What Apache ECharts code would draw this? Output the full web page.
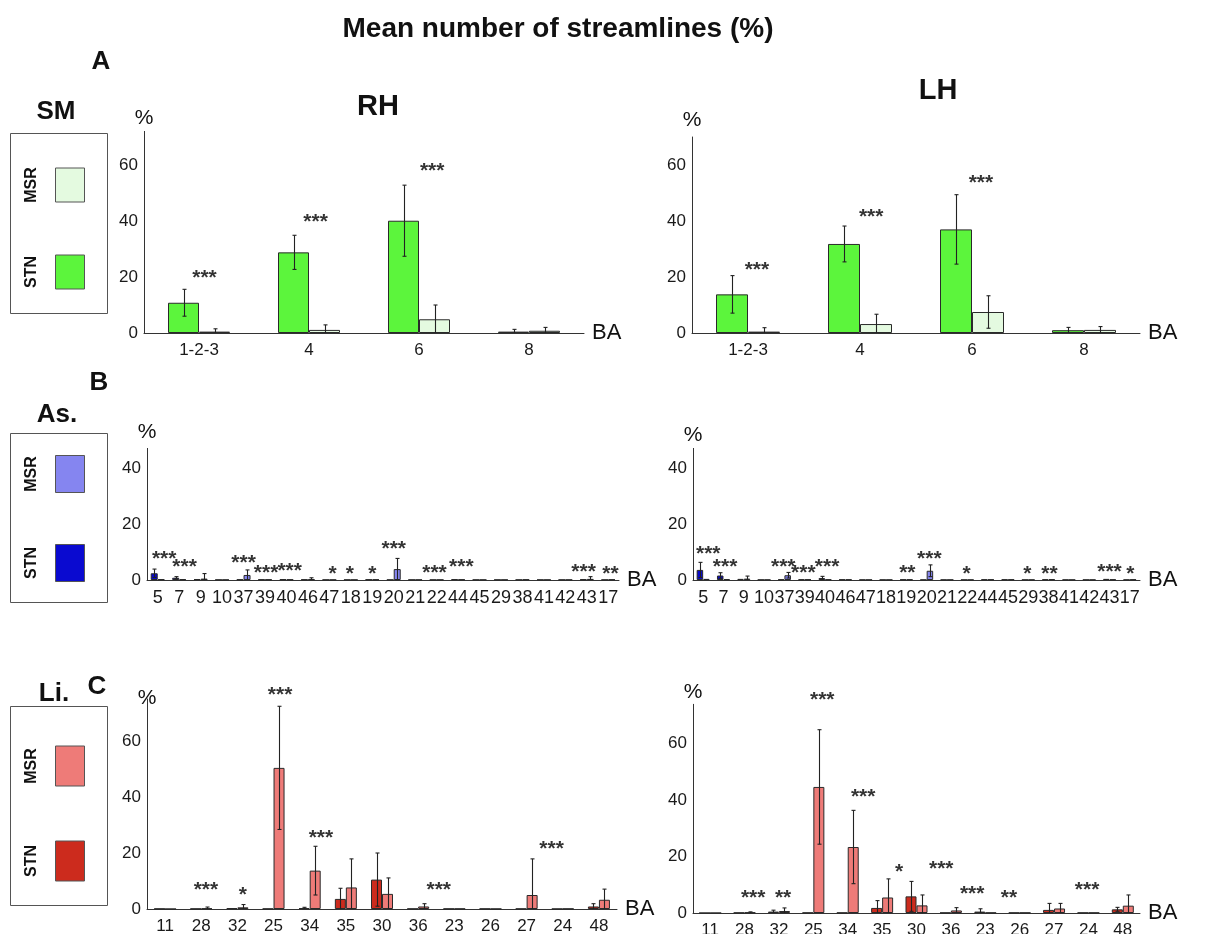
<!DOCTYPE html>
<html><head><meta charset="utf-8">
<script src="https://cdn.jsdelivr.net/npm/echarts@6/dist/echarts.min.js"></script>
<style>html,body{margin:0;padding:0;background:#fff}#c{width:1208px;height:934px}</style>
</head><body><div id="c"></div>
<script>
// ---------------- DATA ----------------
const chartTitle = 'Mean number of streamlines (%)';
const yTickLabels = [0, 20, 40, 60];

// Panel A (SM)
const smCategories = ['1-2-3', '4', '6', '8'];
const smRhStn   = [10.8, 28.8, 40.1, 0.5];
const smRhStnSd = [4.8, 6.1, 12.7, 0.8];
const smRhMsr   = [0.5, 1.1, 4.9, 0.8];
const smRhMsrSd = [1.0, 1.8, 5.1, 1.2];
const smRhStars = [[0.05, 19.6, '***'], [1.06, 39.6, '***'], [2.12, 57.9, '***']];
const smLhStn   = [13.8, 31.8, 37.0, 1.0];
const smLhStnSd = [6.7, 6.4, 12.4, 1.0];
const smLhMsr   = [0.5, 3.2, 7.5, 1.1];
const smLhMsrSd = [1.4, 3.5, 5.8, 1.2];
const smLhStars = [[0.08, 22.5, '***'], [1.1, 41.4, '***'], [2.08, 53.6, '***']];

// Panel B (As.)
const asCategories = ['5','7','9','10','37','39','40','46','47','18','19','20','21','22','44','45','29','38','41','42','43','17'];
const asRhStn   = [2.4,0.8,0.3,0.1,0.2,0.2,0.3,0.2,0.1,0.1,0.2,0.1,0.1,0.1,0.3,0.1,0.1,0.1,0.1,0.1,0.3,0.1];
const asRhStnSd = [1.5,0.4,0,0,0,0,0,0,0,0,0,0,0,0,0,0,0,0,0,0,0,0];
const asRhMsr   = [0.3,0.3,0.5,0.1,1.8,0.2,0.2,0.3,0.1,0.1,0.2,3.9,0.1,0.1,0.2,0.1,0.1,0.2,0.1,0.1,0.4,0.2];
const asRhMsrSd = [0,0,1.8,0,1.8,0,0,0.5,0,0,0,3.8,0,0,0,0,0,0,0,0,0.8,0];
const asRhStars = [[0.3,7.5,'***'],[1.25,4.6,'***'],[4.0,6.0,'***'],[5.05,2.4,'***'],[6.15,3.3,'***'],
  [8.15,2.1,'*'],[8.95,2.1,'*'],[10.0,2.1,'*'],[11.0,11.0,'***'],[12.9,2.4,'***'],[14.15,4.6,'***'],
  [19.85,2.9,'***'],[21.1,2.1,'**']];
const asLhStn   = [3.6,1.6,0.4,0.1,0.2,0.2,0.7,0.2,0.1,0.1,0.2,0.1,0.1,0.1,0.2,0.2,0.1,0.2,0.1,0.1,0.4,0.1];
const asLhStnSd = [2.7,1.0,0,0,0,0,0.6,0,0,0,0,0,0,0,0,0,0,0,0,0,0,0];
const asLhMsr   = [0.4,0.3,0.5,0.1,1.7,0.2,0.2,0.2,0.1,0.1,0.2,3.3,0.1,0.1,0.2,0.2,0.1,0.3,0.1,0.1,0.2,0.2];
const asLhMsrSd = [0,0,0.9,0,1.0,0,0,0,0,0,0,2.1,0,0,0,0,0,0,0,0,0,0];
const asLhStars = [[0.25,9.3,'***'],[1.08,4.6,'***'],[3.94,4.6,'***'],[4.93,2.5,'***'],[6.1,4.6,'***'],
  [10.05,2.5,'**'],[11.13,7.5,'***'],[12.96,2.1,'*'],[15.96,2.1,'*'],[17.04,2.1,'**'],
  [20.0,2.9,'***'],[21.03,2.1,'*']];

// Panel C (Li.)
const liCategories = ['11','28','32','25','34','35','30','36','23','26','27','24','48'];
const liRhStn   = [0.1,0.1,0.3,0.1,0.3,3.6,10.5,0.1,0.1,0.1,0.1,0.05,0.9];
const liRhStnSd = [0,0,0,0,0.3,3.8,9.5,0,0,0,0,0,1.0];
const liRhMsr   = [0,0.2,0.6,50.4,13.7,7.7,5.4,0.9,0.1,0.05,5.0,0.1,3.3];
const liRhMsrSd = [0,0.5,1.0,22.0,8.7,10.2,5.7,1.0,0,0,12.9,0,3.8];
const liRhStars = [[1.13,6.7,'***'],[2.15,5.1,'*'],[3.18,76.5,'***'],[4.31,25.3,'***'],[7.57,6.6,'***'],[10.69,21.5,'***']];
const liLhStn   = [0,0.1,0.5,0.1,0.1,1.8,5.9,0.1,0.5,0.1,1.1,0.1,1.3];
const liLhStnSd = [0,0,0.5,0,0,2.6,5.3,0,1.0,0,2.3,0,0.7];
const liLhMsr   = [0,0.2,0.7,44.7,23.4,5.5,2.7,0.9,0.1,0.1,1.6,0.1,2.6];
const liLhMsrSd = [0,0.2,1.1,20.3,13.0,6.6,3.7,1.0,0,0,1.8,0,3.8];
const liLhStars = [[1.25,5.3,'***'],[2.12,5.3,'**'],[3.26,75.4,'***'],[4.45,41.0,'***'],[5.49,14.5,'*'],
  [6.72,15.7,'***'],[7.62,6.7,'***'],[8.69,5.4,'**'],[10.96,8.0,'***']];

// ---------------- STYLE / LAYOUT ----------------
const FONT = '"Liberation Sans", Arial, Helvetica, sans-serif';
const colors = {
  sm: {stn: '#5CF53C', msr: '#E4FAE0'},
  as: {stn: '#0A0AD0', msr: '#8585F0'},
  li: {stn: '#CC2B1D', msr: '#EE7B78'}
};
const panels = [
  {cats: smCategories, stn: smRhStn, stnSd: smRhStnSd, msr: smRhMsr, msrSd: smRhMsrSd, stars: smRhStars,
   col: colors.sm, left: 144, width: 440, zero: 333, max: 72, px: 2.8, bw: 31, xfs: 17, nameGap: 13},
  {cats: smCategories, stn: smLhStn, stnSd: smLhStnSd, msr: smLhMsr, msrSd: smLhMsrSd, stars: smLhStars,
   col: colors.sm, left: 692, width: 448, zero: 333, max: 70, px: 2.8, bw: 32, xfs: 17, nameGap: 17},
  {cats: asCategories, stn: asRhStn, stnSd: asRhStnSd, msr: asRhMsr, msrSd: asRhMsrSd, stars: asRhStars,
   col: colors.as, left: 147, width: 472, zero: 580, max: 47, px: 2.8, bw: 7, xfs: 18, nameGap: 16},
  {cats: asCategories, stn: asLhStn, stnSd: asLhStnSd, msr: asLhMsr, msrSd: asLhMsrSd, stars: asLhStars,
   col: colors.as, left: 693, width: 447, zero: 580, max: 47, px: 2.8, bw: 6.5, xfs: 18, nameGap: 13},
  {cats: liCategories, stn: liRhStn, stnSd: liRhStnSd, msr: liRhMsr, msrSd: liRhMsrSd, stars: liRhStars,
   col: colors.li, left: 147, width: 470, zero: 909, max: 75, px: 2.8, bw: 11, xfs: 17, nameGap: 1},
  {cats: liCategories, stn: liLhStn, stnSd: liLhStnSd, msr: liLhMsr, msrSd: liLhMsrSd, stars: liLhStars,
   col: colors.li, left: 693, width: 447, zero: 913, max: 74, px: 2.82, bw: 11, xfs: 17, nameGap: 12}
];

function errRender(offset) {
  return function (params, api) {
    const i = api.value(0), v = api.value(1), sd = api.value(2);
    if (!(sd > 0)) return {type: 'group', children: []};
    const lo = Math.max(0, v - sd), hi = v + sd;
    const p1 = api.coord([i, lo]), p2 = api.coord([i, hi]);
    const x = Math.round(p1[0] + offset) + 0.5;
    const cap = 2;
    const st = {stroke: '#222', lineWidth: 1.1};
    const ch = [
      {type: 'line', shape: {x1: x, y1: p1[1], x2: x, y2: p2[1]}, style: st},
      {type: 'line', shape: {x1: x - cap, y1: p2[1], x2: x + cap, y2: p2[1]}, style: st}
    ];
    if (lo > 0) ch.push({type: 'line', shape: {x1: x - cap, y1: p1[1], x2: x + cap, y2: p1[1]}, style: st});
    return {type: 'group', children: ch};
  };
}

const grid = [], xAxis = [], yAxis = [], series = [];
panels.forEach((p, k) => {
  const h = p.max * p.px;
  grid.push({left: p.left, top: p.zero - h, width: p.width, height: h, containLabel: false, outerBoundsMode: 'none'});
  xAxis.push({
    type: 'category', gridIndex: k, data: p.cats,
    name: 'BA', nameLocation: 'end', nameGap: 8,
    nameTextStyle: {fontFamily: FONT, fontSize: 22, color: '#111', verticalAlign: 'middle', padding: [6, 0, 0, 0]},
    axisLine: {onZero: false, lineStyle: {color: '#333', width: 1}}, axisTick: {show: false},
    axisLabel: {interval: 0, fontFamily: FONT, fontSize: p.xfs, color: '#1a1a1a', margin: 9}
  });
  xAxis.push({type: 'value', gridIndex: k, min: -0.5, max: p.cats.length - 0.5, show: false,
    axisLine: {onZero: false}});
  yAxis.push({
    type: 'value', gridIndex: k, min: 0, max: p.max, interval: 20,
    name: '%', nameLocation: 'end', nameGap: p.nameGap,
    nameTextStyle: {fontFamily: FONT, fontSize: 21, color: '#111', verticalAlign: 'middle', align: 'center'},
    axisLine: {show: true, onZero: false, lineStyle: {color: '#333', width: 1}}, axisTick: {show: false},
    splitLine: {show: false},
    axisLabel: {fontFamily: FONT, fontSize: 17, color: '#1a1a1a', margin: 6,
      formatter: v => (yTickLabels.indexOf(v) >= 0 ? String(v) : '')}
  });
  const cx = 2 * k, vx = 2 * k + 1;
  const barBase = {type: 'bar', xAxisIndex: cx, yAxisIndex: k, barWidth: p.bw, barGap: '0%', animation: false};
  series.push(Object.assign({}, barBase, {name: 'STN', data: p.stn,
    itemStyle: {color: p.col.stn, borderColor: '#2a2a2a', borderWidth: 1}}));
  series.push(Object.assign({}, barBase, {name: 'MSR', data: p.msr,
    itemStyle: {color: p.col.msr, borderColor: '#2a2a2a', borderWidth: 1}}));
  series.push({type: 'custom', xAxisIndex: cx, yAxisIndex: k, animation: false, z: 5,
    renderItem: errRender(-p.bw / 2), data: p.stn.map((v, i) => [i, v, p.stnSd[i]])});
  series.push({type: 'custom', xAxisIndex: cx, yAxisIndex: k, animation: false, z: 5,
    renderItem: errRender(p.bw / 2), data: p.msr.map((v, i) => [i, v, p.msrSd[i]])});
  series.push({type: 'scatter', xAxisIndex: vx, yAxisIndex: k, animation: false, clip: false, z: 6,
    symbol: 'circle', symbolSize: 1, itemStyle: {color: 'rgba(0,0,0,0)'},
    label: {show: true, position: 'inside', formatter: '{b}', offset: [0, 6],
      fontFamily: FONT, fontSize: 21, fontWeight: 'bold', color: '#000'},
    labelLayout: {hideOverlap: false},
    data: p.stars.map(s => ({name: s[2], value: [s[0], s[1]]}))});
});

// ---------------- graphics (titles, legends) ----------------
function txt(x, y, t, size, extra) {
  return Object.assign({type: 'text', x: x, y: y, silent: true,
    style: {text: t, fontFamily: FONT, fontSize: size, fontWeight: 'bold', fill: '#111', align: 'center', verticalAlign: 'middle'}}, extra || {});
}
function legendBox(top, bottom, title, titleX, titleY, msrY, stnY, swH, col) {
  const items = [];
  items.push({type: 'rect', shape: {x: 10.5, y: top + 0.5, width: 97, height: bottom - top}, style: {fill: '#fff', stroke: '#555', lineWidth: 1}});
  items.push(txt(titleX, titleY, title, 26));
  items.push({type: 'rect', shape: {x: 55.5, y: msrY - swH / 2, width: 29, height: swH}, style: {fill: col.msr, stroke: '#555', lineWidth: 1}});
  items.push({type: 'rect', shape: {x: 55.5, y: stnY - swH / 2, width: 29, height: swH}, style: {fill: col.stn, stroke: '#555', lineWidth: 1}});
  items.push(txt(32, msrY, 'MSR', 16, {rotation: Math.PI / 2}));
  items.push(txt(32, stnY, 'STN', 16, {rotation: Math.PI / 2}));
  return items;
}
const graphic = [
  txt(558, 29, chartTitle, 28),
  txt(101, 62, 'A', 26), txt(99, 383, 'B', 26), txt(97, 687, 'C', 26),
  txt(378, 107, 'RH', 29), txt(938, 91, 'LH', 29)
].concat(
  legendBox(133, 313, 'SM', 56, 112, 185, 272, 34, colors.sm),
  legendBox(433, 602, 'As.', 57, 415, 474, 563, 37, colors.as),
  legendBox(706, 905, 'Li.', 54, 694, 766, 861, 40, colors.li)
);

const chart = echarts.init(document.getElementById('c'), null, {renderer: 'canvas'});
chart.setOption({
  backgroundColor: '#ffffff',
  animation: false,
  grid: grid, xAxis: xAxis, yAxis: yAxis, series: series,
  graphic: graphic
});
</script>
</body></html>
